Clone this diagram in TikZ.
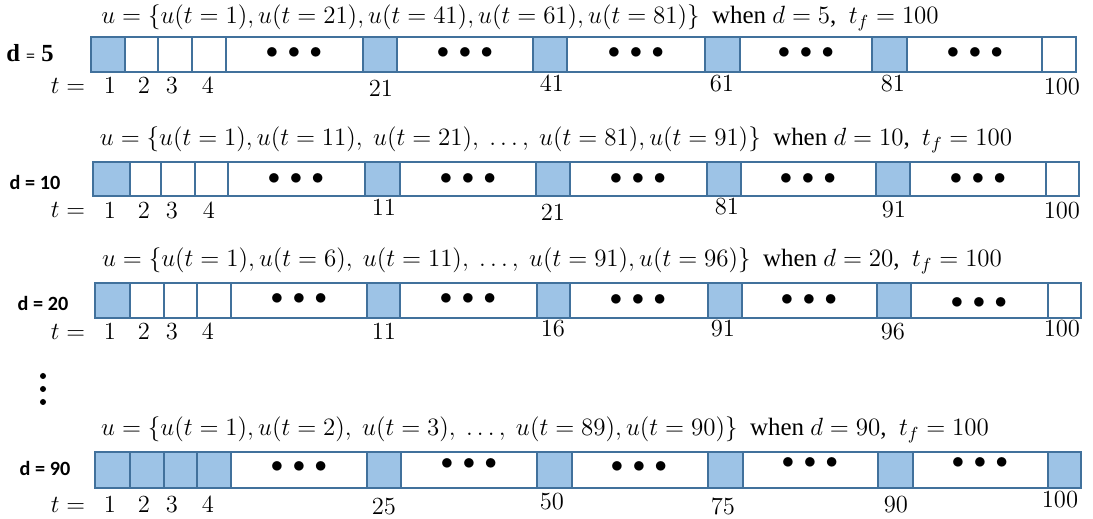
\RequirePackage{fix-cm}
\documentclass[tikz,border=0pt]{standalone}
\usepackage{fontspec}
\setmainfont{Liberation Serif}
\newfontfamily\calibri{Carlito}
\usepackage{tikz}
\usetikzlibrary{positioning,calc}
\definecolor{cellfill}{HTML}{9DC3E6}
\definecolor{celledge}{HTML}{41719C}

\begin{document}
\begin{tikzpicture}[x=0.02cm,y=-0.02cm,font=\fontsize{14}{16}\selectfont,
  cell/.style={draw=celledge,line width=1.3pt},
  sel/.style={fill=cellfill},
  nosel/.style={fill=white},
  dotsbox/.style={inner sep=0pt},
  tlab/.style={inner sep=0pt},
  dlab/.style={inner sep=0pt,font=\calibri\fontsize{11.5}{13}\selectfont\bfseries},
  title/.style={inner sep=0pt,font=\fontsize{14.2}{16}\selectfont}]
  \useasboundingbox (0,0) rectangle (1093,519);
  % d = 5
  \node[title] (ttl5) at (520,18) {$u=\{u(t=1),u(t=21),u(t=41),u(t=61),u(t=81)\}$\ \ when $d=5$,\ \ $t_f=100$};
  \node[dlab,font=\fontsize{14}{15}\selectfont\bfseries] (d5) at (30,53) {d {\small =} 5};
  \foreach \l/\r/\k in {91/125/sel,125/158/nosel,158/192/nosel,192/226/nosel,226/363/nosel,363/397/sel,397/533/nosel,533/567/sel,567/705/nosel,705/740/sel,740/872/nosel,872/907/sel,907/1042/nosel,1042/1076/nosel}
    \draw[cell,\k] (\l,37) rectangle (\r,72);
  \foreach \x [count=\i] in {294,465,636,806,975}
    \node[dotsbox] (dotsA\i) at (\x,53) {$\bullet\,\bullet\,\bullet$};
  \node[tlab] (tA) at (68,86) {$t=$};
  \foreach \n/\x/\y in {1/110/86,2/144/86,3/172/86,4/208/86,21/381/89,41/552/84,61/722/84,81/893/84,100/1062/87}
    \node[tlab] (tA\n) at (\x,\y) {$\n$};
  % d = 10
  \node[title] (ttl10) at (556,140) {$u=\{u(t=1),u(t=11),\ u(t=21),\ \ldots,\ u(t=81),u(t=91)\}$\ \ when $d=10$,\ \ $t_f=100$};
  \node[dlab] (d10) at (35,182) {d = 10};
  \foreach \l/\r/\k in {93/130/sel,130/161/nosel,161/195/nosel,195/228/nosel,228/365/nosel,365/400/sel,400/536/nosel,536/570/sel,570/707/nosel,707/741/sel,741/876/nosel,876/910/sel,910/1046/nosel,1046/1079/nosel}
    \draw[cell,\k] (\l,162) rectangle (\r,196);
  \foreach \x [count=\i] in {296,468,638,808,978}
    \node[dotsbox] (dotsB\i) at (\x,179) {$\bullet\,\bullet\,\bullet$};
  \node[tlab] (tB) at (68,210) {$t=$};
  \foreach \n/\x/\y in {1/110/211,2/144/211,3/172/211,4/209/211,11/384/208,21/553/213,81/727/207,91/894/210,100/1062/211}
    \node[tlab] (tB\n) at (\x,\y) {$\n$};
  % d = 20
  \node[title] (ttl20) at (552,261) {$u=\{u(t=1),u(t=6),\ u(t=11),\ \ldots,\ u(t=91),u(t=96)\}$\ \ when $d=20$,\ \ $t_f=100$};
  \node[dlab] (d20) at (43,303) {d = 20};
  \foreach \l/\r/\k in {95/130/sel,130/164/nosel,164/197/nosel,197/231/nosel,231/367/nosel,367/400/sel,400/537/nosel,537/570/sel,570/708/nosel,708/742/sel,742/877/nosel,877/911/sel,911/1048/nosel,1048/1081/nosel}
    \draw[cell,\k] (\l,283) rectangle (\r,318);
  \foreach \x/\y [count=\i] in {299/299,468/299,638/300,809/300,979/303}
    \node[dotsbox] (dotsC\i) at (\x,\y) {$\bullet\,\bullet\,\bullet$};
  \node[tlab] (tC) at (68,332) {$t=$};
  \foreach \n/\x/\y in {1/110/332,2/144/332,3/172/332,4/208/332,11/384/332,16/553/329,91/723/329,96/893/332,100/1062/329}
    \node[tlab] (tC\n) at (\x,\y) {$\n$};
  % vertical dots
  \foreach \y in {376,389,402}
    \fill (43,\y) circle (3);
  % d = 90
  \node[title] (ttl90) at (545,430) {$u=\{u(t=1),u(t=2),\ u(t=3),\ \ldots,\ u(t=89),u(t=90)\}$\ \ when $d=90$,\ \ $t_f=100$};
  \node[dlab] (d90) at (45,468) {d = 90};
  \foreach \l/\r/\k in {95/130/sel,130/164/sel,164/197/sel,197/231/sel,231/367/nosel,367/401/sel,401/537/nosel,537/572/sel,572/708/nosel,708/743/sel,743/878/nosel,878/913/sel,913/1048/nosel,1048/1081/sel}
    \draw[cell,\k] (\l,452) rectangle (\r,488);
  \foreach \x/\y [count=\i] in {299/467,469/464,639/467,810/463,980/463}
    \node[dotsbox] (dotsD\i) at (\x,\y) {$\bullet\,\bullet\,\bullet$};
  \node[tlab] (tD) at (68,505) {$t=$};
  \foreach \n/\x/\y in {1/110/505,2/144/505,3/172/505,4/208/505,25/384/507,50/552/502,75/723/507,90/896/505,100/1060/500}
    \node[tlab] (tD\n) at (\x,\y) {$\n$};
\end{tikzpicture}
\end{document}
